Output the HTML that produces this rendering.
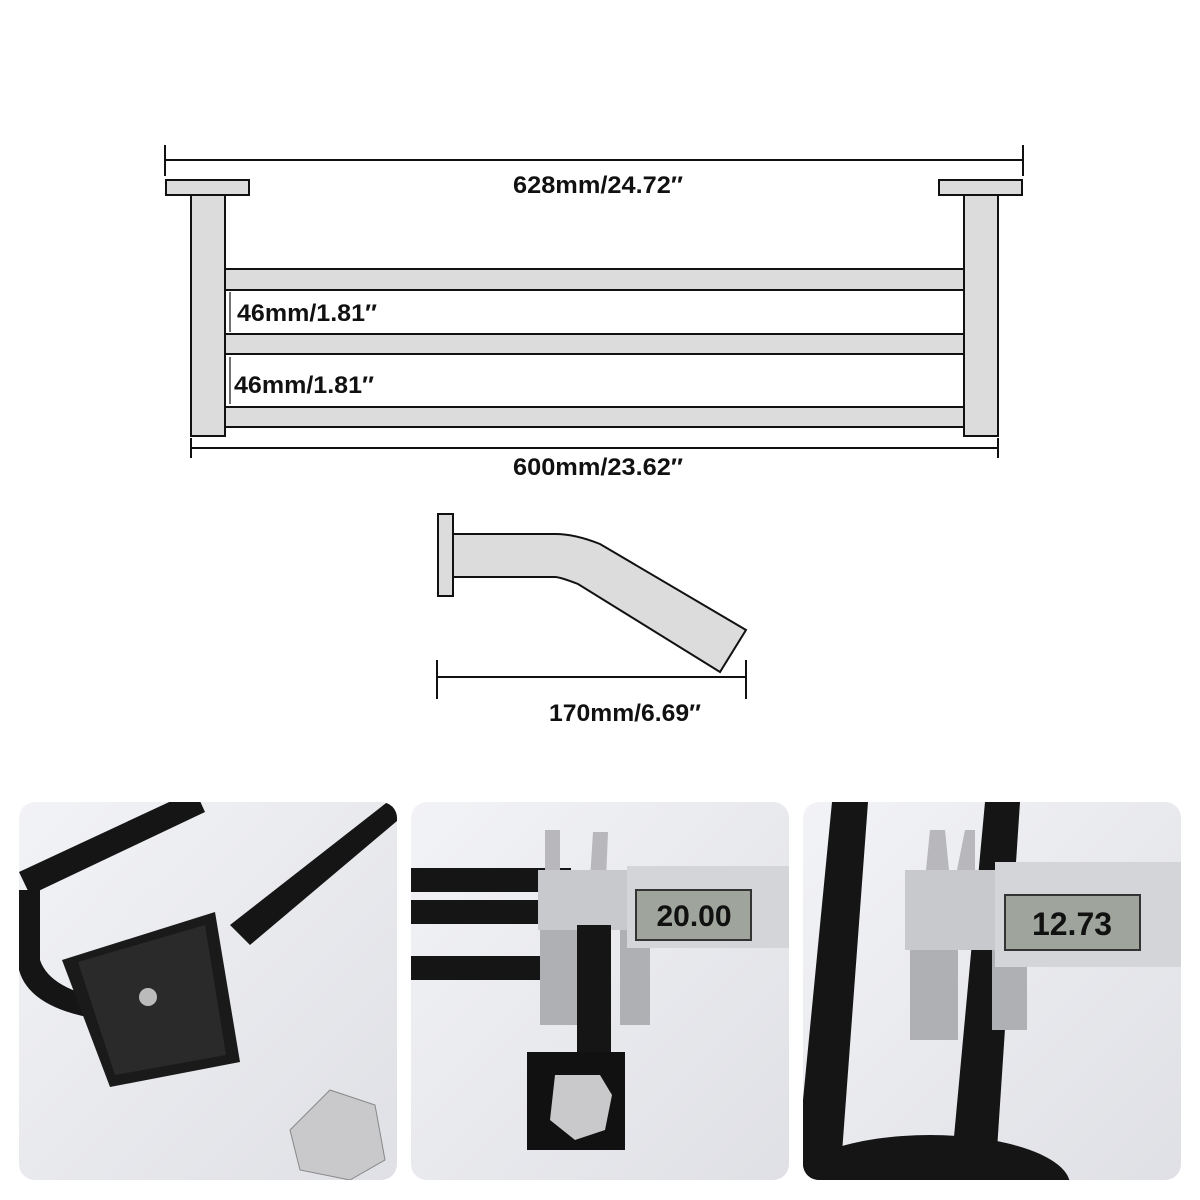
<!DOCTYPE html>
<html><head><meta charset="utf-8"><style>
html,body{margin:0;padding:0;background:#fff;}
svg{display:block;}
text{font-family:"Liberation Sans",sans-serif;font-weight:bold;fill:#111;}
</style></head><body>
<svg width="1200" height="1200" viewBox="0 0 1200 1200" xmlns="http://www.w3.org/2000/svg">
<defs>
<clipPath id="c1"><rect x="19" y="802" width="378" height="378" rx="16"/></clipPath>
<clipPath id="c2"><rect x="411" y="802" width="378" height="378" rx="16"/></clipPath>
<clipPath id="c3"><rect x="803" y="802" width="378" height="378" rx="16"/></clipPath>
<linearGradient id="bg" x1="0" y1="0" x2="1" y2="1"><stop offset="0" stop-color="#f2f3f6"/><stop offset="1" stop-color="#dfe0e5"/></linearGradient>
</defs>
<g stroke="#111" stroke-width="2" fill="#dcdcdc">
<line x1="165" y1="160" x2="1023" y2="160"/>
<line x1="165" y1="145" x2="165" y2="176"/>
<line x1="1023" y1="145" x2="1023" y2="176"/>
<rect x="166" y="180" width="83" height="15"/>
<rect x="939" y="180" width="83" height="15"/>
<rect x="191" y="195" width="34" height="241"/>
<rect x="964" y="195" width="34" height="241"/>
<rect x="225" y="269" width="739" height="21"/>
<rect x="225" y="334" width="739" height="20"/>
<rect x="225" y="407" width="739" height="20"/>
<line x1="191" y1="448" x2="998" y2="448"/>
<line x1="191" y1="438" x2="191" y2="458"/>
<line x1="998" y1="438" x2="998" y2="458"/>
<line x1="230" y1="292" x2="230" y2="332" stroke-width="1.2"/>
<line x1="230" y1="357" x2="230" y2="404" stroke-width="1.2"/>
<rect x="438" y="514" width="15" height="82"/>
<path d="M453 534 L555 534 Q575 534 600 544 L746 630 L720 672 L578 584 Q560 577 555 577 L453 577 Z"/>
<line x1="437" y1="677" x2="746" y2="677"/>
<line x1="437" y1="660" x2="437" y2="699"/>
<line x1="746" y1="660" x2="746" y2="699"/>
</g>
<text x="598" y="193" font-size="24" text-anchor="middle" textLength="170" lengthAdjust="spacingAndGlyphs">628mm/24.72″</text>
<text x="237" y="321" font-size="24" textLength="140" lengthAdjust="spacingAndGlyphs">46mm/1.81″</text>
<text x="234" y="393" font-size="24" textLength="140" lengthAdjust="spacingAndGlyphs">46mm/1.81″</text>
<text x="598" y="475" font-size="24" text-anchor="middle" textLength="170" lengthAdjust="spacingAndGlyphs">600mm/23.62″</text>
<text x="625" y="721" font-size="24" text-anchor="middle" textLength="152" lengthAdjust="spacingAndGlyphs">170mm/6.69″</text>

<g clip-path="url(#c1)">
<rect x="19" y="802" width="378" height="378" fill="url(#bg)"/>
<path d="M19 872 L195 790 L205 812 L30 895 Z" fill="#151515"/>
<path d="M410 810 L390 800 L230 925 L250 945 Z" fill="#151515"/>
<path d="M19 890 L40 890 L40 960 Q50 990 110 1000 L105 1020 Q30 1010 19 970 Z" fill="#151515"/>
<polygon points="62,960 215,912 240,1062 110,1087" fill="#1a1a1a"/>
<polygon points="78,962 205,925 226,1055 115,1075" fill="#2a2a2a"/>
<circle cx="148" cy="997" r="9" fill="#bbb"/>
<polygon points="290,1130 330,1090 375,1105 385,1160 350,1180 300,1170" fill="#c9c9cc" stroke="#888"/>
</g>
<g clip-path="url(#c2)">
<rect x="411" y="802" width="378" height="378" fill="url(#bg)"/>
<rect x="411" y="868" width="160" height="24" fill="#151515"/>
<rect x="411" y="900" width="160" height="24" fill="#151515"/>
<rect x="411" y="956" width="160" height="24" fill="#151515"/>
<polygon points="545,830 560,830 560,880 545,880" fill="#b8b8bc"/>
<polygon points="593,832 608,832 606,880 590,880" fill="#b8b8bc"/>
<rect x="538" y="870" width="95" height="60" fill="#c8c9cd"/>
<rect x="540" y="930" width="40" height="95" fill="#aeb0b4"/>
<rect x="620" y="930" width="30" height="95" fill="#aeb0b4"/>
<rect x="627" y="866" width="162" height="82" fill="#d4d5d8"/>
<rect x="636" y="890" width="115" height="50" fill="#9fa59c" stroke="#333" stroke-width="2"/>
<text x="694" y="926" font-size="30" font-weight="normal" text-anchor="middle" fill="#222">20.00</text>
<rect x="577" y="925" width="34" height="130" fill="#151515"/>
<rect x="527" y="1052" width="98" height="98" fill="#111"/>
<polygon points="555,1075 600,1075 612,1095 605,1130 575,1140 550,1120" fill="#c9c9cc"/>
</g>
<g clip-path="url(#c3)">
<rect x="803" y="802" width="378" height="378" fill="url(#bg)"/>
<polygon points="832,802 868,802 840,1180 803,1180 803,1100" fill="#151515"/>
<polygon points="985,802 1020,802 995,1180 950,1180" fill="#151515"/>
<polygon points="930,830 945,830 950,880 925,880" fill="#b8b8bc"/>
<polygon points="965,830 975,830 975,880 955,880" fill="#b8b8bc"/>
<rect x="905" y="870" width="100" height="80" fill="#c8c9cd"/>
<rect x="910" y="950" width="48" height="90" fill="#aeb0b4"/>
<rect x="992" y="950" width="35" height="80" fill="#aeb0b4"/>
<rect x="995" y="862" width="186" height="105" fill="#d4d5d8"/>
<rect x="1005" y="895" width="135" height="55" fill="#9fa59c" stroke="#333" stroke-width="2"/>
<text x="1072" y="935" font-size="32" font-weight="normal" text-anchor="middle" fill="#222">12.73</text>
<ellipse cx="930" cy="1185" rx="140" ry="50" fill="#151515"/>
</g>
</svg>
</body></html>
